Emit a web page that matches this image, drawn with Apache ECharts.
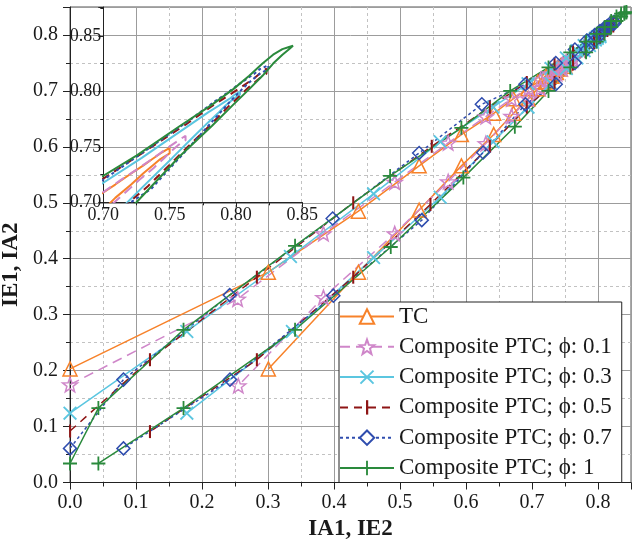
<!DOCTYPE html>
<html><head><meta charset="utf-8">
<script src="https://cdn.jsdelivr.net/npm/echarts@6/dist/echarts.min.js"></script>
<style>html,body{margin:0;padding:0;background:#fff}#c{width:632px;height:542px}</style>
</head><body><div id="c"></div>
<script>
// ---------------- data ----------------
const seriesNames = ['TC', 'Composite PTC; \u03d5: 0.1', 'Composite PTC; \u03d5: 0.3',
  'Composite PTC; \u03d5: 0.5', 'Composite PTC; \u03d5: 0.7', 'Composite PTC; \u03d5: 1'];

// upper branch (IE1 vs IA1) from the lower-left end up to the tip,
// lower branch (IA2 vs IE2) from the tip back down
const tcUpper = [[0,0.203],[0.3005,0.376],[0.437,0.485],[0.529,0.566],[0.593,0.622],[0.642,0.660],[0.672,0.686],[0.694,0.704],[0.709,0.716],[0.721,0.726],[0.730,0.733],[0.737,0.739],[0.743,0.744],[0.750,0.749]];
const tcLower = [[0.750,0.744],[0.743,0.739],[0.737,0.733],[0.730,0.726],[0.721,0.716],[0.709,0.704],[0.694,0.686],[0.672,0.660],[0.642,0.622],[0.593,0.566],[0.529,0.487],[0.437,0.376],[0.3005,0.203]];

const p01Upper = [[0,0.175],[0.254,0.328],[0.384,0.445],[0.492,0.537],[0.573,0.607],[0.630,0.654],[0.669,0.686],[0.695,0.705],[0.713,0.720],[0.727,0.731],[0.738,0.740],[0.746,0.747],[0.752,0.752],[0.757,0.756],[0.762,0.760]];
const p01Lower = [[0.762,0.756],[0.757,0.752],[0.752,0.747],[0.746,0.740],[0.738,0.731],[0.727,0.720],[0.713,0.705],[0.695,0.686],[0.669,0.655],[0.630,0.606],[0.573,0.538],[0.492,0.445],[0.384,0.331],[0.255,0.173]];

const p03Upper = [[0,0.124],[0.177,0.270],[0.334,0.404],[0.460,0.516],[0.561,0.609],[0.641,0.671],[0.694,0.713],[0.729,0.740],[0.752,0.759],[0.768,0.772],[0.779,0.781],[0.787,0.787],[0.792,0.791],[0.796,0.794],[0.799,0.797],[0.803,0.7995]];
const p03Lower = [[0.803,0.797],[0.799,0.794],[0.796,0.791],[0.792,0.787],[0.787,0.781],[0.779,0.772],[0.768,0.759],[0.752,0.740],[0.729,0.713],[0.694,0.671],[0.641,0.609],[0.561,0.510],[0.460,0.402],[0.337,0.270],[0.177,0.124]];

const p05Upper = [[0,0.092],[0.121,0.2195],[0.283,0.367],[0.429,0.500],[0.548,0.601],[0.636,0.671],[0.692,0.715],[0.734,0.748],[0.762,0.770],[0.781,0.786],[0.794,0.796],[0.803,0.803],[0.809,0.808],[0.814,0.812],[0.818,0.816],[0.823,0.8205]];
const p05Lower = [[0.823,0.816],[0.818,0.812],[0.814,0.808],[0.809,0.803],[0.803,0.796],[0.794,0.786],[0.781,0.770],[0.762,0.748],[0.734,0.715],[0.692,0.671],[0.636,0.601],[0.546,0.497],[0.429,0.367],[0.283,0.2195],[0.121,0.091]];

const p07Upper = [[0,0.061],[0.081,0.184],[0.242,0.335],[0.398,0.472],[0.529,0.589],[0.624,0.676],[0.690,0.712],[0.736,0.750],[0.765,0.774],[0.783,0.790],[0.795,0.800],[0.803,0.807],[0.809,0.812],[0.814,0.816],[0.818,0.820],[0.8244,0.8235]];
const p07Lower = [[0.8244,0.820],[0.818,0.816],[0.814,0.812],[0.809,0.807],[0.803,0.800],[0.795,0.790],[0.783,0.774],[0.765,0.750],[0.736,0.712],[0.690,0.676],[0.626,0.590],[0.533,0.469],[0.399,0.334],[0.2424,0.184],[0.081,0.061]];

const p1Upper = [[0,0.034],[0.043,0.133],[0.172,0.273],[0.341,0.423],[0.485,0.548],[0.593,0.634],[0.667,0.700],[0.725,0.742],[0.758,0.769],[0.782,0.788],[0.798,0.802],[0.810,0.814],[0.820,0.825],[0.828,0.833],[0.835,0.838],[0.840,0.840],[0.843,0.841]];
const p1Lower = [[0.843,0.840],[0.840,0.838],[0.835,0.833],[0.828,0.825],[0.820,0.814],[0.810,0.802],[0.798,0.788],[0.782,0.769],[0.758,0.742],[0.725,0.700],[0.674,0.636],[0.596,0.545],[0.486,0.421],[0.341,0.273],[0.172,0.133],[0.043,0.034]];

// axis ranges / ticks
const mainRange = [0, 0.85];
const mainStep = 0.1;
const minorStep = 0.05;
const insetXRange = [0.70, 0.85];
const insetYRange = [0.70, 0.876];
const insetStep = 0.05;

// ---------------- styles ----------------
const FONT = '"Liberation Serif", "Times New Roman", serif';
const TXT = '#1a1a1a';
const STAR = 'path://M7,0L8.705,4.654L13.657,4.837L9.758,7.896L11.114,12.663L7,9.9L2.886,12.663L4.242,7.896L0.343,4.837L5.295,4.654Z';
const XMARK = 'path://M0,1.3L1.3,0L7,5.7L12.7,0L14,1.3L8.3,7L14,12.7L12.7,14L7,8.3L1.3,14L0,12.7L5.7,7Z';
const PLUS = 'path://M6.1,0H7.9V6.1H14V7.9H7.9V14H6.1V7.9H0V6.1H6.1Z';
const BAR = 'path://M0,0M14,14M6,0H8.2V14H6Z';
const CLEAR = 'rgba(255,255,255,0)';

const styles = [
  {color:'#F7822A', symbol:'triangle', size:14, fill:CLEAR, bw:1.5, dash:'solid', hollow:true},
  {color:'#CF86C9', symbol:STAR, size:15, fill:CLEAR, bw:1.5, dash:[10,6], hollow:true},
  {color:'#5BC6E0', symbol:XMARK, size:14, fill:'#5BC6E0', bw:0, dash:'solid', hollow:false},
  {color:'#8E1515', symbol:BAR, size:13, fill:'#8E1515', bw:0, dash:[8,6], hollow:false},
  {color:'#2F4DAE', symbol:'diamond', size:13, fill:CLEAR, bw:1.5, dash:[3,3], hollow:true},
  {color:'#2A8A3C', symbol:PLUS, size:14, fill:'#2A8A3C', bw:0, dash:'solid', hollow:false}
];
const loops = [
  tcUpper.concat(tcLower), p01Upper.concat(p01Lower), p03Upper.concat(p03Lower),
  p05Upper.concat(p05Lower), p07Upper.concat(p07Lower), p1Upper.concat(p1Lower)
];

const series = [];
loops.forEach((d, i) => {
  const s = styles[i];
  series.push({
    name: seriesNames[i], type:'line', xAxisIndex:1, yAxisIndex:1, data:d,
    symbol:s.symbol, symbolSize:s.size, symbolKeepAspect:true, showSymbol:true,
    lineStyle:{color:s.color, width:1.5, type:s.dash},
    itemStyle:{color:s.fill, borderColor:s.color, borderWidth:s.bw},
    emphasis:{disabled:true}, animation:false, z:2
  });
});
loops.forEach((d, i) => {
  const s = styles[i];
  series.push({
    name: 'inset ' + i, type:'line', xAxisIndex:2, yAxisIndex:2, data:d,
    showSymbol:false, symbol:'none', clip:true,
    lineStyle:{color:s.color, width:2, type:s.dash},
    itemStyle:{color:s.color},
    emphasis:{disabled:true}, animation:false, z:3
  });
});

const axisLineStyle = {color:'#222', width:1};
const option = {
  animation:false,
  backgroundColor:'#fff',
  grid:[
    {left:70, top:7, right:1, bottom:59.5, show:true, borderColor:'#555', borderWidth:1, backgroundColor:'transparent', containLabel:false, outerBoundsMode:'none'},
    {left:103.3, top:7, width:199, height:195.3, show:false, containLabel:false, outerBoundsMode:'none'}
  ],
  xAxis:[
    {gridIndex:0, type:'value', min:mainRange[0], max:mainRange[1], interval:minorStep, position:'top',
      axisLine:{show:false}, axisTick:{show:false}, axisLabel:{show:false},
      splitLine:{show:true, lineStyle:{color:'#c2c2c2', width:1, type:[3,3]}}},
    {gridIndex:0, type:'value', min:mainRange[0], max:mainRange[1], interval:mainStep, position:'bottom',
      axisLine:{show:true, onZero:false, lineStyle:axisLineStyle},
      axisTick:{show:true, length:7, lineStyle:axisLineStyle},
      minorTick:{show:true, splitNumber:2, length:4, lineStyle:axisLineStyle},
      axisLabel:{margin:10, fontSize:20, fontFamily:FONT, color:TXT, showMaxLabel:false, formatter:v=>v.toFixed(1)},
      splitLine:{show:true, lineStyle:{color:'#9c9c9c', width:1}},
      name:'IA1, IE2', nameLocation:'middle', nameGap:30,
      nameTextStyle:{fontSize:23, fontWeight:'bold', fontFamily:FONT, color:TXT}},
    {gridIndex:1, type:'value', min:insetXRange[0], max:insetXRange[1], interval:insetStep,
      axisLine:{show:true, onZero:false, lineStyle:axisLineStyle},
      axisTick:{show:true, length:5, lineStyle:axisLineStyle},
      minorTick:{show:true, splitNumber:2, length:3, lineStyle:axisLineStyle},
      axisLabel:{margin:4, fontSize:18, fontFamily:FONT, color:TXT, formatter:v=>v.toFixed(2)},
      splitLine:{show:false}}
  ],
  yAxis:[
    {gridIndex:0, type:'value', min:mainRange[0], max:mainRange[1], interval:minorStep, position:'right',
      axisLine:{show:false}, axisTick:{show:false}, axisLabel:{show:false},
      splitLine:{show:true, lineStyle:{color:'#c2c2c2', width:1, type:[3,3]}}},
    {gridIndex:0, type:'value', min:mainRange[0], max:mainRange[1], interval:mainStep, position:'left',
      axisLine:{show:true, onZero:false, lineStyle:axisLineStyle},
      axisTick:{show:true, length:7, lineStyle:axisLineStyle},
      minorTick:{show:true, splitNumber:2, length:4, lineStyle:axisLineStyle},
      axisLabel:{margin:12, fontSize:20, fontFamily:FONT, color:TXT, showMaxLabel:false, formatter:v=>v.toFixed(1)},
      splitLine:{show:true, lineStyle:{color:'#9c9c9c', width:1}},
      name:'IE1, IA2', nameLocation:'middle', nameGap:37, nameRotate:90,
      nameTextStyle:{fontSize:23, fontWeight:'bold', fontFamily:FONT, color:TXT, padding:[0,40,0,0]}},
    {gridIndex:1, type:'value', min:insetYRange[0], max:insetYRange[1], interval:insetStep,
      axisLine:{show:true, onZero:false, lineStyle:axisLineStyle},
      axisTick:{show:true, length:5, lineStyle:axisLineStyle},
      minorTick:{show:true, splitNumber:2, length:3, lineStyle:axisLineStyle},
      axisLabel:{margin:2, fontSize:18, fontFamily:FONT, color:TXT, showMaxLabel:false, formatter:v=>v.toFixed(2)},
      splitLine:{show:false}}
  ],
  legend:{
    orient:'vertical', left:339, top:302, padding:[3,10,3,0],
    backgroundColor:'#fff', borderColor:'#222', borderWidth:1, borderRadius:0,
    itemWidth:54, itemHeight:18, itemGap:7.3, itemTextGap:7,
    textStyle:{fontSize:23, fontFamily:FONT, color:TXT},
    selectedMode:false,
    data: seriesNames.map((n, i) => styles[i].hollow ? {name:n, itemStyle:{color:'#fff'}} : {name:n})
  },
  series: series
};
const chart = echarts.init(document.getElementById('c'), null, {renderer:'canvas'});
chart.setOption(option);
</script>
</body></html>
